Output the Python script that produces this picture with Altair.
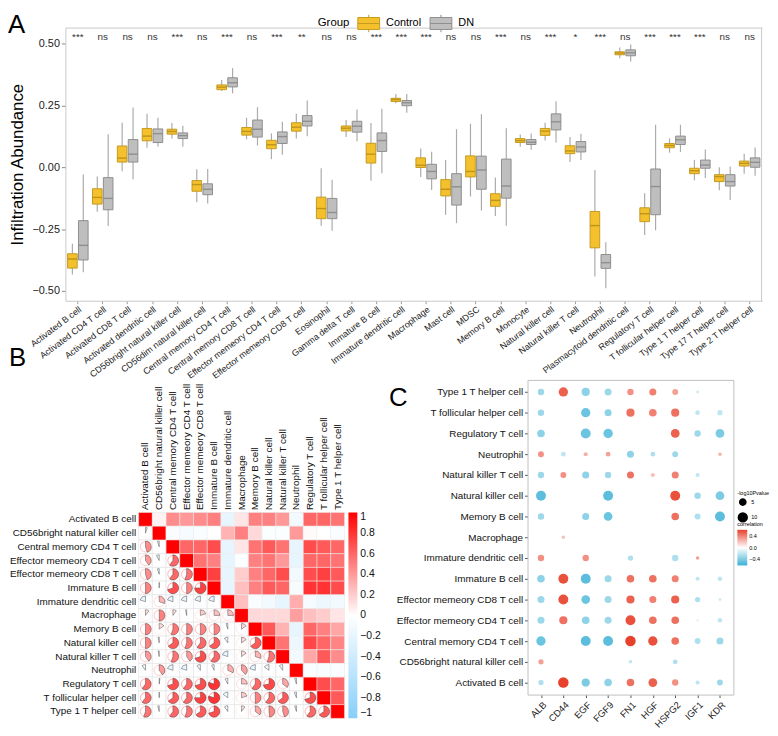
import math
import altair as alt
import pandas as pd

FONT = "Liberation Sans"

# ---------------- Panel A data ----------------
cells = ["Activated B cell", "Activated CD4 T cell", "Activated CD8 T cell", "Activated dendritic cell",
         "CD56bright natural killer cell", "CD56dim natural killer cell", "Central memory CD4 T cell",
         "Central memory CD8 T cell", "Effector memeory CD4 T cell", "Effector memeory CD8 T cell",
         "Eosinophil", "Gamma delta T cell", "Immature B cell", "Immature dendritic cell", "Macrophage",
         "Mast cell", "MDSC", "Memory B cell", "Monocyte", "Natural killer cell", "Natural killer T cell",
         "Neutrophil", "Plasmacytoid dendritic cell", "Regulatory T cell", "T follicular helper cell",
         "Type 1 T helper cell", "Type 17 T helper cell", "Type 2 T helper cell"]
signif = ["***", "ns", "ns", "ns", "***", "ns", "***", "ns", "***", "**", "ns", "ns", "***", "***",
          "***", "ns", "ns", "***", "ns", "***", "*", "***", "ns", "***", "***", "***", "ns", "ns"]

ctrl_lo = [-0.434, -0.18, -0.016, 0.079, 0.116, -0.142, 0.309, 0.113, 0.033, 0.116, -0.237, 0.122, -0.055, 0.259,
           -0.039, -0.192, -0.118, -0.197, 0.083, 0.108, 0.021, -0.442, 0.441, -0.274, 0.059, -0.053, -0.093, -0.026]
ctrl_q1 = [-0.408, -0.149, 0.021, 0.107, 0.134, -0.097, 0.314, 0.13, 0.075, 0.146, -0.208, 0.147, 0.017, 0.266,
           -0.001, -0.116, -0.039, -0.158, 0.1, 0.129, 0.055, -0.326, 0.455, -0.22, 0.079, -0.026, -0.058, 0.005]
ctrl_med = [-0.371, -0.122, 0.037, 0.126, 0.145, -0.07, 0.324, 0.145, 0.091, 0.162, -0.167, 0.158, 0.053, 0.274,
            0.008, -0.089, -0.017, -0.134, 0.108, 0.146, 0.066, -0.236, 0.462, -0.188, 0.088, -0.014, -0.038, 0.016]
ctrl_q3 = [-0.35, -0.087, 0.086, 0.157, 0.154, -0.054, 0.333, 0.161, 0.109, 0.18, -0.121, 0.167, 0.097, 0.279,
           0.038, -0.05, 0.046, -0.107, 0.116, 0.157, 0.087, -0.179, 0.467, -0.164, 0.096, -0.004, -0.03, 0.025]
ctrl_hi = [-0.309, -0.037, 0.18, 0.216, 0.179, -0.008, 0.353, 0.2, 0.137, 0.216, -0.004, 0.191, 0.179, 0.296,
           0.076, 0.029, 0.176, -0.041, 0.133, 0.18, 0.122, -0.011, 0.484, -0.105, 0.117, 0.03, 0.0, 0.055]

dn_lo = [-0.425, -0.238, -0.049, 0.084, 0.083, -0.147, 0.299, 0.088, 0.051, 0.125, -0.257, 0.105, -0.024, 0.221,
         -0.092, -0.226, -0.175, -0.237, 0.071, 0.1, 0.029, -0.489, 0.428, -0.255, 0.062, -0.043, -0.132, -0.034]
dn_q1 = [-0.375, -0.172, 0.021, 0.1, 0.116, -0.111, 0.325, 0.122, 0.096, 0.167, -0.208, 0.142, 0.064, 0.249,
         -0.047, -0.153, -0.089, -0.125, 0.092, 0.151, 0.062, -0.409, 0.451, -0.192, 0.092, -0.004, -0.076, 0.0]
dn_med = [-0.316, -0.126, 0.053, 0.136, 0.128, -0.089, 0.342, 0.154, 0.124, 0.186, -0.183, 0.166, 0.108, 0.261,
          -0.017, -0.079, -0.011, -0.076, 0.101, 0.184, 0.082, -0.386, 0.463, -0.078, 0.111, 0.009, -0.058, 0.02]
dn_q3 = [-0.216, -0.042, 0.112, 0.155, 0.139, -0.067, 0.362, 0.191, 0.143, 0.209, -0.126, 0.186, 0.139, 0.27,
         0.012, -0.026, 0.045, 0.033, 0.112, 0.216, 0.104, -0.353, 0.475, -0.007, 0.126, 0.029, -0.03, 0.038]
dn_hi = [-0.029, 0.134, 0.242, 0.2, 0.168, -0.007, 0.401, 0.243, 0.184, 0.27, -0.051, 0.234, 0.237, 0.296,
         0.063, 0.154, 0.214, 0.158, 0.137, 0.267, 0.136, -0.303, 0.497, 0.172, 0.172, 0.072, 0.003, 0.08]

groups = ["Control", "DN"]
panel_letters = ["A", "B", "C"]

# ---------------- Panel B data ----------------
bnames = ["Activated B cell", "CD56bright natural killer cell", "Central memory CD4 T cell",
          "Effector memeory CD4 T cell", "Effector memeory CD8 T cell", "Immature  B cell",
          "Immature dendritic cell", "Macrophage", "Memory B cell", "Natural killer cell",
          "Natural killer T cell", "Neutrophil", "Regulatory T cell", "T follicular helper cell",
          "Type 1 T helper cell"]
b_upper = [
    [0.05, 0.45, 0.4, 0.45, 0.5, -0.2, 0.1, 0.5, 0.5, 0.4, -0.1, 0.6, 0.6, 0.55],
    [-0.05, -0.08, -0.05, 0.0, 0.3, 0.5, 0.15, -0.03, -0.03, 0.4, 0.02, 0.0, -0.04],
    [0.6, 0.6, 0.7, -0.2, 0.1, 0.55, 0.65, 0.55, -0.2, 0.7, 0.65, 0.6],
    [0.55, 0.5, -0.2, -0.03, 0.5, 0.55, 0.4, -0.2, 0.6, 0.6, 0.55],
    [0.75, -0.2, 0.2, 0.5, 0.6, 0.7, -0.1, 0.7, 0.75, 0.65],
    [-0.2, 0.25, 0.5, 0.65, 0.6, -0.07, 0.8, 0.8, 0.7],
    [0.25, -0.05, -0.1, -0.2, 0.32, -0.08, -0.15, -0.1],
    [0.15, 0.15, 0.15, 0.38, 0.25, 0.2, 0.1],
    [0.65, 0.3, -0.2, 0.6, 0.5, 0.35],
    [0.55, -0.15, 0.72, 0.6, 0.48],
    [-0.1, 0.35, 0.65, 0.45],
    [-0.05, -0.06, -0.05],
    [0.7, 0.6],
    [0.65],
]

# ---------------- Panel C data ----------------
c_rows = ["Type 1 T helper cell", "T follicular helper cell", "Regulatory T cell", "Neutrophil",
          "Natural killer T cell", "Natural killer cell", "Memory B cell", "Macrophage",
          "Immature dendritic cell", "Immature  B cell", "Effector memeory CD8 T cell",
          "Effector memeory CD4 T cell", "Central memory CD4 T cell", "CD56bright natural killer cell",
          "Activated B cell"]
genes = ["ALB", "CD44", "EGF", "FGF9", "FN1", "HGF", "HSPG2", "IGF1", "KDR"]
N = None
c_corr = [
    [-0.3, 0.5, -0.35, -0.3, 0.35, 0.4, 0.3, -0.15, N],
    [-0.3, N, -0.45, -0.35, 0.45, 0.4, 0.45, -0.2, -0.2],
    [-0.35, N, -0.45, -0.45, N, N, 0.5, -0.3, -0.4],
    [0.35, -0.2, 0.25, 0.3, -0.35, -0.25, -0.3, N, 0.25],
    [-0.3, 0.35, -0.35, -0.3, 0.45, 0.2, 0.4, -0.2, N],
    [-0.5, N, N, -0.5, N, N, 0.55, -0.3, -0.4],
    [-0.3, N, -0.35, -0.45, N, N, 0.45, -0.25, -0.5],
    [N, 0.2, N, N, N, N, N, N, N],
    [0.35, N, 0.35, N, -0.25, N, -0.25, 0.3, N],
    [-0.35, 0.55, -0.5, -0.3, 0.45, 0.45, 0.4, -0.2, -0.2],
    [-0.3, 0.55, -0.45, -0.3, 0.5, 0.4, 0.5, -0.25, -0.15],
    [-0.3, 0.45, -0.35, -0.3, 0.55, 0.45, 0.45, -0.1, -0.2],
    [-0.45, N, -0.5, -0.5, 0.6, 0.55, 0.45, -0.25, -0.3],
    [0.3, N, N, N, -0.2, N, -0.25, N, N],
    [-0.25, 0.6, -0.4, -0.35, 0.45, 0.5, 0.35, -0.2, -0.3],
]
c_logp = [
    [5.2, 11.2, 8.5, 6.3, 5.2, 6.3, 4.4, 1.1, N],
    [5.2, N, 11.0, 6.3, 8.5, 7.4, 8.5, 2.8, 3.5],
    [7.4, N, 12.6, 11.2, N, N, 9.8, 5.2, 9.8],
    [4.4, 2.8, 2.2, 2.8, 6.3, 2.8, 4.4, N, 1.6],
    [5.2, 4.4, 6.3, 5.2, 6.3, 2.2, 6.3, 2.2, N],
    [12.6, N, N, 12.6, N, N, 12.6, 5.2, 9.8],
    [5.2, N, 6.3, 9.8, N, N, 7.4, 4.4, 12.6],
    [N, 1.6, N, N, N, N, N, N, N],
    [5.2, N, 5.2, N, 3.5, N, 5.2, 1.6, N],
    [7.4, 12.6, 12.6, 6.3, 7.4, 7.4, 6.3, 2.2, 2.8],
    [6.3, 12.6, 9.8, 6.3, 8.5, 6.3, 8.5, 3.5, 1.1],
    [6.3, 8.5, 7.4, 6.3, 12.6, 7.4, 7.4, 0.7, 2.8],
    [11.2, N, 12.6, 12.6, 14.0, 11.2, 7.4, 4.4, 6.3],
    [3.5, N, N, N, 1.6, N, 2.8, N, N],
    [3.5, 14.0, 8.5, 7.4, 7.4, 9.8, 5.2, 2.2, 4.4],
]

# ---------------- figure geometry (one canvas, panels placed by scale ranges) ----------------
W, H = 762, 720
A_X0, A_X1, A_Y0, A_Y1 = 58, 762, 16, 292
B_X0, B_X1, B_Y0, B_Y1 = 132, 340, 506, 714
C_X0, C_X1, C_Y0, C_Y1 = 525, 733, 372, 690

# ================= Panel A =================
recA = []
for i, c in enumerate(cells):
    recA.append(dict(cell=c, group="Control", lo=ctrl_lo[i], q1=ctrl_q1[i], med=ctrl_med[i], q3=ctrl_q3[i], hi=ctrl_hi[i]))
    recA.append(dict(cell=c, group="DN", lo=dn_lo[i], q1=dn_q1[i], med=dn_med[i], q3=dn_q3[i], hi=dn_hi[i]))
dfA = pd.DataFrame(recA)
dfSig = pd.DataFrame({"cell": cells, "sig": signif})

xsA = alt.Scale(domain=cells, paddingInner=0, paddingOuter=0, range=[A_X0, A_X1])
ysA = alt.Scale(domain=[-0.54, 0.565], nice=False, zero=False, range=[A_Y1, A_Y0])
xoA = alt.XOffset("group:N", sort=groups, scale=alt.Scale(domain=groups, paddingInner=0.12, paddingOuter=0.2))
FRAME_A = "#C8C8C8"

axAx = alt.Axis(orient="bottom", offset=A_Y1 - H, labelAngle=-37, labelFontSize=9, tickSize=3,
                tickColor="#999999", domain=True, domainColor=FRAME_A, labelPadding=1,
                labelColor="#222222", title=None)
axAy = alt.Axis(orient="left", offset=-A_X0, values=[-0.5, -0.25, 0, 0.25, 0.5], format=".2f",
                labelFontSize=11, title="Infiltration Abundance", titleFontSize=17,
                titleFontWeight="normal", grid=False, domain=True, domainColor=FRAME_A, tickSize=4,
                tickColor="#888888", labelColor="#222222", titlePadding=6)
axAxTop = alt.Axis(orient="top", offset=-A_Y0, labels=False, ticks=False, domain=True,
                   domainColor=FRAME_A, title=None)
axAyRight = alt.Axis(orient="right", offset=A_X1 - W - 1, labels=False, ticks=False, domain=True,
                     domainColor=FRAME_A, grid=False, title=None)

box_path = "M-1,-0.55L1,-0.55L1,0.55L-1,0.55Z M-1,0L1,0 M0,-0.55L0,-0.8 M0,0.55L0,0.8"
legA = alt.Legend(title="Group", orient="none", legendX=313, legendY=0, direction="horizontal",
                  titleOrient="left", symbolType=box_path, symbolSize=484, symbolStrokeWidth=1,
                  labelFontSize=11, titleFontSize=11.5, titleFontWeight="normal", labelOffset=6,
                  columnPadding=6, titlePadding=8)
fillA = alt.Scale(domain=groups, range=["#F4C12D", "#BEBEBE"])
strokeA = alt.Scale(domain=groups, range=["#C49A22", "#8E8E8E"])

whisk = alt.Chart(dfA).mark_rule(color="#ABABAB", strokeWidth=1.2).encode(
    x=alt.X("cell:N", sort=cells, scale=xsA, axis=axAx), xOffset=xoA,
    y=alt.Y("lo:Q", scale=ysA, axis=axAy), y2="hi:Q")
box = alt.Chart(dfA).mark_bar(strokeWidth=1).encode(
    x=alt.X("cell:N", sort=cells, scale=xsA, axis=axAxTop), xOffset=xoA,
    y=alt.Y("q1:Q", scale=ysA, axis=axAyRight), y2="q3:Q",
    fill=alt.Fill("group:N", scale=fillA, sort=groups, legend=legA),
    stroke=alt.Stroke("group:N", scale=strokeA, sort=groups, legend=legA))
med = alt.Chart(dfA).mark_tick(thickness=1.4, size=9.5).encode(
    x=alt.X("cell:N", sort=cells, scale=xsA, axis=None), xOffset=xoA,
    y=alt.Y("med:Q", scale=ysA, axis=None),
    color=alt.Color("group:N", scale=alt.Scale(domain=groups, range=["#A8820F", "#7A7A7A"]), legend=None))
sigtext = alt.Chart(dfSig).mark_text(fontSize=10, color="#333333").encode(
    x=alt.X("cell:N", sort=cells, scale=xsA, axis=None),
    y=alt.Y(datum=0.527, scale=ysA, axis=None), text="sig:N")

def letter(ch, px, py, baseline="top"):
    return alt.Chart(pd.DataFrame({"t": [ch]})).mark_text(
        fontSize=26, align="left", baseline=baseline, color="#000000").encode(
        text="t:N", x=alt.value(px), y=alt.value(py))

letA = letter(panel_letters[0], 0, 0)
letB = letter(panel_letters[1], 1, 337)
letC = letter(panel_letters[2], 385, 390, "middle")

# ================= Panel B =================
nB = len(bnames)
mat = [[1.0] * nB for _ in range(nB)]
for i, rv in enumerate(b_upper):
    for k, v in enumerate(rv):
        j = i + 1 + k
        mat[i][j] = v
        mat[j][i] = v
recB = []
for i in range(nB):
    for j in range(nB):
        r = mat[i][j]
        if r >= 0:
            t1, t2 = 0.0, 2 * math.pi * r
        else:
            t1, t2 = 2 * math.pi * (1 + r), 2 * math.pi
        recB.append(dict(row=bnames[i], col=bnames[j], r=r, part="upper" if j >= i else "lower", t1=t1, t2=t2))
dfB = pd.DataFrame(recB)

# every B layer gets the full list of names as its domain, so filtered layers stay aligned
xsB = alt.Scale(domain=bnames, paddingInner=0, paddingOuter=0, range=[B_X0, B_X1])
ysB = alt.Scale(domain=bnames, paddingInner=0, paddingOuter=0, range=[B_Y0, B_Y1])
xpB = alt.Scale(type="point", domain=bnames, padding=0.5, range=[B_X0, B_X1])
ypB = alt.Scale(type="point", domain=bnames, padding=0.5, range=[B_Y0, B_Y1])
axBx = alt.Axis(orient="top", offset=-B_Y0, labelAngle=-90, labelFontSize=10, ticks=False, domain=False,
                labelPadding=3, labelColor="#111111", title=None)
axBy = alt.Axis(orient="left", offset=-B_X0, labelFontSize=10, ticks=False, domain=False,
                labelPadding=3, labelColor="#111111", title=None)
cB = alt.Scale(domain=[-1, 0, 1], range=["#87CEFA", "#FFFFFF", "#FF0000"], interpolate="rgb")
legB = alt.Legend(type="gradient", title=None, orient="none", legendX=B_X1 + 4, legendY=B_Y0,
                  gradientLength=B_Y1 - B_Y0, gradientThickness=9, labelFontSize=10.5,
                  values=[1, 0.8, 0.6, 0.4, 0.2, 0, -0.2, -0.4, -0.6, -0.8, -1],
                  labelOverlap=False, format="~g", direction="vertical", labelColor="#111111",
                  gradientStrokeColor="#999999", labelOffset=3)

bg = alt.Chart(dfB).mark_rect(fill="white", stroke="#E3E3E3", strokeWidth=0.6).encode(
    x=alt.X("col:N", sort=bnames, scale=xsB, axis=axBx),
    y=alt.Y("row:N", sort=bnames, scale=ysB, axis=axBy))
up = alt.Chart(dfB).transform_filter("datum.part == 'upper'").mark_rect(
    stroke="#EEEEEE", strokeWidth=0.5).encode(
    x=alt.X("col:N", sort=bnames, scale=xsB, axis=None),
    y=alt.Y("row:N", sort=bnames, scale=ysB, axis=None),
    color=alt.Color("r:Q", scale=cB, legend=legB))
ring = alt.Chart(dfB).transform_filter("datum.part == 'lower'").mark_point(
    shape="circle", filled=False, size=108, strokeWidth=0.7, opacity=0.7).encode(
    x=alt.X("col:N", sort=bnames, scale=xpB, axis=None),
    y=alt.Y("row:N", sort=bnames, scale=ypB, axis=None),
    stroke=alt.Stroke("r:Q", scale=cB, legend=None))
pies = alt.Chart(dfB).transform_filter("datum.part == 'lower'").mark_arc(
    outerRadius=5.8, stroke="#4A4A4A", strokeWidth=0.5).encode(
    x=alt.X("col:N", sort=bnames, scale=xpB, axis=None),
    y=alt.Y("row:N", sort=bnames, scale=ypB, axis=None),
    theta=alt.Theta("t1:Q", scale=None), theta2="t2:Q",
    color=alt.Color("r:Q", scale=cB, legend=None))

# ================= Panel C =================
recC = []
for i, rn in enumerate(c_rows):
    for j, g in enumerate(genes):
        if c_corr[i][j] is None:
            continue
        recC.append(dict(row=rn, gene=g, corr=c_corr[i][j], logp=c_logp[i][j]))
dfC = pd.DataFrame(recC)

FRAME_C = "#BFBFBF"
xsC = alt.Scale(type="point", domain=genes, padding=0.6, range=[C_X0, C_X1])
ysC = alt.Scale(type="point", domain=c_rows, padding=0.58, range=[C_Y0, C_Y1])
cC = alt.Scale(domain=[-0.6, 0, 0.6], range=["#3BB1D5", "#FFFFFF", "#E8412B"], interpolate="rgb")
dots = alt.Chart(dfC).mark_circle(opacity=1).encode(
    x=alt.X("gene:N", sort=genes, scale=xsC,
            axis=alt.Axis(orient="bottom", offset=C_Y1 - H, labelAngle=-45, labelFontSize=9.5,
                          tickSize=3, tickColor="#555555", domain=True, domainColor=FRAME_C,
                          labelColor="#222222", labelPadding=2, title=None)),
    y=alt.Y("row:N", sort=c_rows, scale=ysC,
            axis=alt.Axis(orient="left", offset=-C_X0, labelFontSize=10, tickSize=3,
                          tickColor="#555555", domain=True, domainColor=FRAME_C,
                          labelColor="#111111", labelPadding=2, title=None)),
    size=alt.Size("logp:Q", scale=alt.Scale(domain=[0, 20], range=[0, 160]),
                  legend=alt.Legend(title="-log10Pvalue", values=[5, 10], orient="none",
                                    legendX=C_X1 + 4, legendY=C_Y0 + 112, titleFontSize=5.5,
                                    labelFontSize=5.5, titleFontWeight="normal",
                                    symbolFillColor="#000000", symbolStrokeColor="#000000",
                                    symbolType="circle", rowPadding=1, titlePadding=2, labelOffset=3)),
    color=alt.Color("corr:Q", scale=cC,
                    legend=alt.Legend(type="gradient", title="correlation", values=[-0.4, 0, 0.4],
                                      format=".1f", orient="none", legendX=C_X1 + 4,
                                      legendY=C_Y0 + 144, gradientLength=36, gradientThickness=10,
                                      titleFontSize=5.5, labelFontSize=5.5, titleFontWeight="normal",
                                      titlePadding=2, labelOffset=2, gradientStrokeWidth=0)))
cframe = alt.Chart(dfC).mark_circle(opacity=0).encode(
    x=alt.X("gene:N", sort=genes, scale=xsC,
            axis=alt.Axis(orient="top", offset=-C_Y0, labels=False, ticks=False, domain=True,
                          domainColor=FRAME_C, title=None)),
    y=alt.Y("row:N", sort=c_rows, scale=ysC,
            axis=alt.Axis(orient="right", offset=C_X1 - W, labels=False, ticks=False, domain=True,
                          domainColor=FRAME_C, title=None)))

chart = alt.layer(
    whisk, box, med, sigtext, bg, up, ring, pies, dots, cframe, letA, letB, letC
).resolve_scale(
    x="independent", y="independent", xOffset="independent", color="independent",
    fill="independent", stroke="independent", size="independent"
).resolve_axis(x="independent", y="independent").resolve_legend(
    color="independent", fill="independent", stroke="independent", size="independent"
).properties(
    width=W, height=H, padding={"left": 0, "top": 0, "right": 0, "bottom": 0},
    view=alt.ViewBackground(stroke="transparent")
).configure(font=FONT)

chart.save("out.html", embed_options={"renderer": "svg", "actions": False})
